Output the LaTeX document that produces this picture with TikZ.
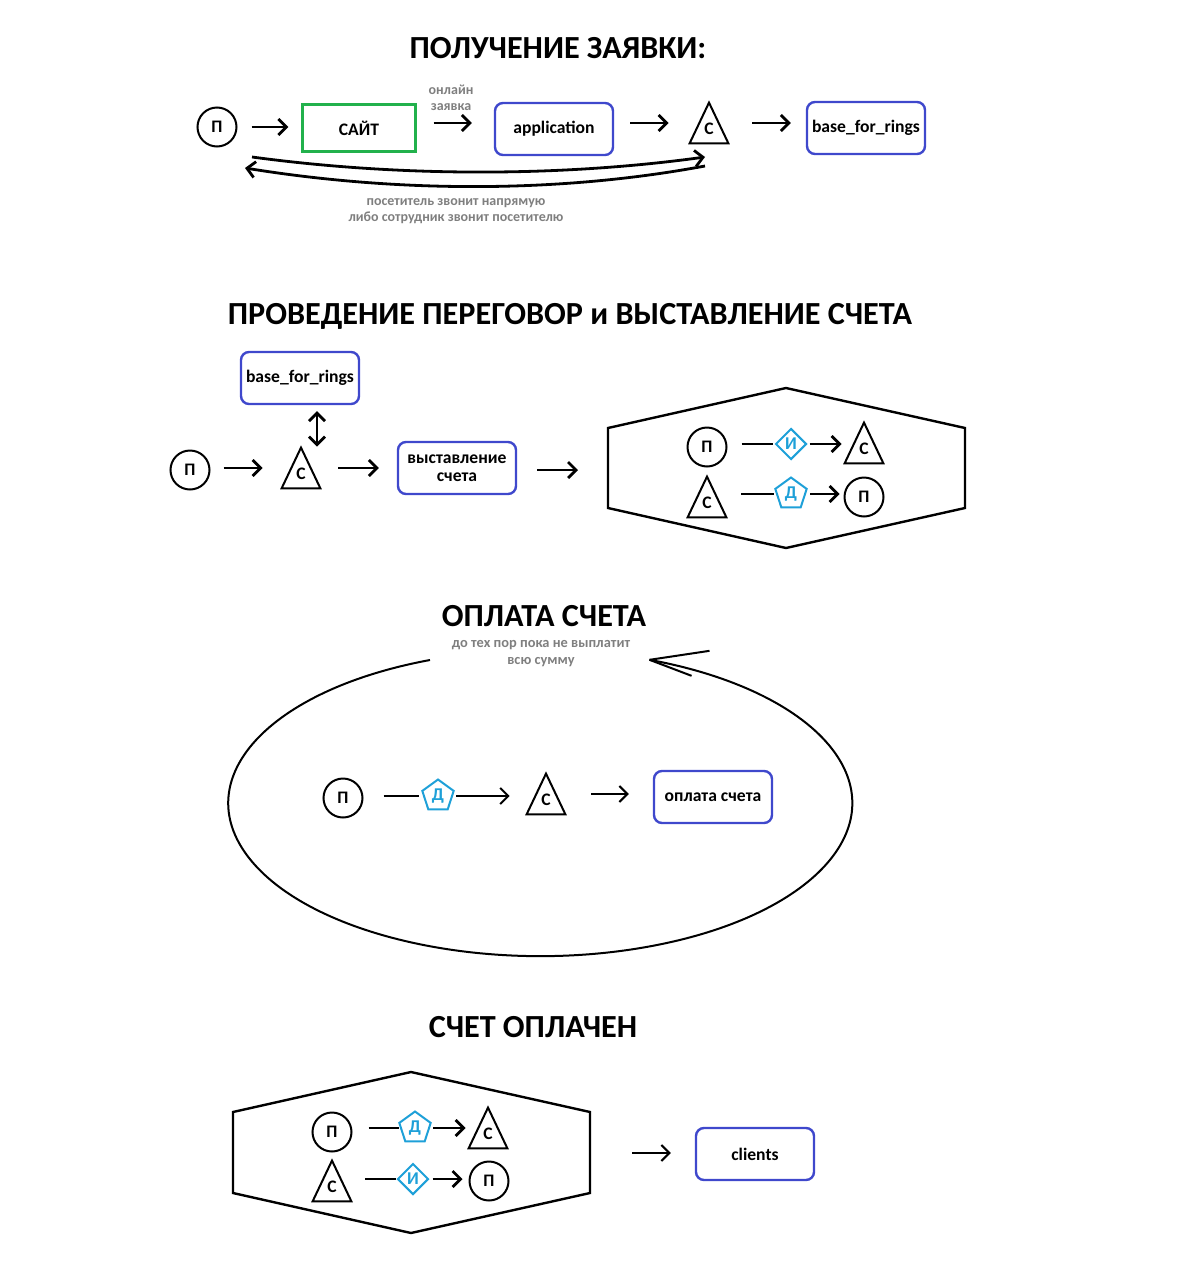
\documentclass[tikz,border=0pt]{standalone}
\usepackage{fontspec}
\setmainfont{Carlito}
\usetikzlibrary{shapes.geometric,arrows.meta}
\definecolor{boxblue}{HTML}{3F48CC}
\definecolor{boxgreen}{HTML}{22B14C}
\definecolor{cyanish}{HTML}{1EA0D8}
\definecolor{graytext}{HTML}{7F7F7F}
\begin{document}
\begin{tikzpicture}[x=0.5pt,y=-0.5pt,
  font=\bfseries\fontsize{8.8}{10}\selectfont,
  person/.style={circle,draw,line width=1pt,minimum size=19.5pt,inner sep=0pt},
  staff/.style={rectangle,minimum width=19pt,minimum height=20pt,inner sep=0pt,text height=11.5pt,text depth=0pt},
  tri/.style={draw,line width=1pt,line join=miter},
  db/.style={rectangle,rounded corners=4pt,draw=boxblue,line width=1.2pt,minimum width=59pt,minimum height=26pt,align=center,inner sep=1pt},
  sitebox/.style={rectangle,draw=boxgreen,line width=1.1pt,minimum width=56.5pt,minimum height=23.5pt},
  diam/.style={diamond,draw=cyanish,text=cyanish,line width=1pt,minimum width=15.5pt,minimum height=15.5pt,inner sep=0pt,font=\bfseries\fontsize{9}{9}\selectfont},
  pent/.style={regular polygon,regular polygon sides=5,draw=cyanish,text=cyanish,line width=1pt,minimum size=16.5pt,inner sep=0pt,font=\bfseries\fontsize{9}{9}\selectfont},
  heading/.style={font=\bfseries\fontsize{16.1}{18}\selectfont},
  note/.style={text=graytext,align=center,font=\bfseries\fontsize{7}{8}\selectfont},
  arr/.style={line width=1.4pt,-{Straight Barb[length=4pt,width=8pt]}},
  arrthin/.style={line width=1pt,-{Straight Barb[length=4pt,width=8pt]}},
  link/.style={line width=1.4pt},
  linkthin/.style={line width=1pt},
  outline/.style={line width=1.2pt,line join=miter}
]
\useasboundingbox (0,0) rectangle (1199,1280);

% ---------- Section 1 ----------
\node[heading] (t1) at (558,48) {ПОЛУЧЕНИЕ ЗАЯВКИ:};
\node[person] (p1) at (217,127) {П};
\node[sitebox] (site) at (359,128) {САЙТ};
\node[note] (online) at (451,98) {онлайн\\заявка};
\node[db] (app) at (554,129) {application};
\node[staff] (c1) at (709,123) {С};
\node[db] (bfr1) at (866,128) {base\_for\_rings};
\node[note] (call) at (456,211) {посетитель звонит напрямую\\либо сотрудник звонит посетителю};

\coordinate (y122) at (0,123);
\draw[arr,shorten <=7pt,shorten >=6.5pt] (p1.east) -- (p1.east -| site.west);
\draw[arr,shorten <=8.5pt,shorten >=11pt] (site.east |- y122) -- (app.west |- y122);
\draw[arr,shorten <=8pt,shorten >=10.5pt] (app.east |- c1.west) -- (c1.west);
\draw[arr,shorten <=12pt,shorten >=7.5pt] (c1.east) -- (c1.east -| bfr1.west);

\coordinate (u1s) at (252,157);
\coordinate (u1e) at (705,157);
\coordinate (l1s) at (705,166);
\coordinate (l1e) at (245,168);
\draw[arr] (u1s) .. controls (400,177) and (560,177) .. (u1e);
\draw[arr] (l1s) .. controls (560,193) and (400,193) .. (l1e);

% ---------- Section 2 ----------
\node[heading] (t2) at (570,316) {ПРОВЕДЕНИЕ ПЕРЕГОВОР и ВЫСТАВЛЕНИЕ СЧЕТА};
\node[db] (bfr2) at (300,378) {base\_for\_rings};
\node[staff] (c2) at (301,468) {С};
\node[person] (p2) at (190,470) {П};
\node[db] (inv) at (457,468) {выставление\\[-1pt]счета};

\draw[arr,{Straight Barb[length=4pt,width=8pt]}-{Straight Barb[length=4pt,width=8pt]},shorten <=3pt,shorten >=0.5pt]
  ([xshift=8.5pt]bfr2.south) -- ([xshift=8.5pt]bfr2.south |- c2.north);
\draw[arr,shorten <=6.5pt,shorten >=9.5pt] (p2.east |- c2.west) -- (c2.west);
\draw[arr,shorten <=9pt,shorten >=9pt] (c2.east) -- (c2.east -| inv.west);

% hexagon 2
\coordinate (h2a) at (608,428);
\coordinate (h2b) at (786,388);
\coordinate (h2c) at (965,428);
\coordinate (h2d) at (965,508);
\coordinate (h2e) at (786,548);
\coordinate (h2f) at (608,508);
\coordinate (h2w) at (608,470);
\draw[outline] (h2a) -- (h2b) -- (h2c) -- (h2d) -- (h2e) -- (h2f) -- cycle;
\draw[arr,shorten <=10pt,shorten >=15pt] (inv.east |- h2w) -- (h2w);

\node[person] (p3) at (707,447) {П};
\node[diam] (i1) at (791,444) {И};
\node[staff] (c3) at (864,443) {С};
\node[staff] (c4) at (707,497) {С};
\node[pent] (d1) at (791,494) {Д};
\node[person] (p4) at (864,497) {П};

\draw[link,shorten <=7pt,shorten >=1pt] (p3.east |- i1.west) -- (i1.west);
\draw[arr,shorten <=1pt,shorten >=1.5pt] (i1.east) -- (i1.east -| c3.west);
\draw[link,shorten <=7.5pt,shorten >=1pt] (c4.east |- d1.west) -- (d1.west);
\draw[arr,shorten <=2pt,shorten >=2pt] (d1.east) -- (d1.east -| p4.west);

% ---------- Section 3 ----------
\node[heading] (t3) at (544,616) {ОПЛАТА СЧЕТА};
\node[note,font=\bfseries\fontsize{7.2}{8.5}\selectfont] (until) at (541,654) {до тех пор пока не выплатит\\всю сумму};
\coordinate (e0) at (430,660);
\draw[linkthin] (e0) arc[start angle=249.3,end angle=-69.5,x radius=312,y radius=153] coordinate (etip);
\draw[linkthin] (etip) -- ++(60,-9);
\draw[linkthin] (etip) -- ++(42,16);

\node[person] (p5) at (343,798) {П};
\node[pent] (d2) at (438,796) {Д};
\node[staff] (c5) at (546,794) {С};
\node[db] (pay) at (713,797) {оплата счета};

\draw[linkthin,shorten <=10pt,shorten >=2pt] (p5.east |- d2.west) -- (d2.west);
\draw[arrthin,shorten <=1.5pt,shorten >=8.5pt] (d2.east) -- (d2.east -| c5.west);
\draw[arrthin,shorten <=13pt,shorten >=12pt] (c5.east) -- (c5.east -| pay.west);

% ---------- Section 4 ----------
\node[heading] (t4) at (533,1027) {СЧЕТ ОПЛАЧЕН};
\coordinate (h4a) at (233,1112);
\coordinate (h4b) at (411,1072);
\coordinate (h4c) at (590,1112);
\coordinate (h4d) at (590,1193);
\coordinate (h4e) at (411,1233);
\coordinate (h4f) at (233,1193);
\coordinate (h4w) at (590,1153);
\draw[outline] (h4a) -- (h4b) -- (h4c) -- (h4d) -- (h4e) -- (h4f) -- cycle;

\node[person] (p6) at (332,1132) {П};
\node[pent] (d3) at (415,1128) {Д};
\node[staff] (c6) at (488,1128) {С};
\node[staff] (c7) at (332,1181) {С};
\node[diam] (i2) at (413,1179) {И};
\node[person] (p7) at (489,1181) {П};
\node[db] (cl) at (755,1154) {clients};

\draw[link,shorten <=8pt,shorten >=0.5pt] (p6.east |- d3.west) -- (d3.west);
\draw[arr,shorten <=1.5pt,shorten >=1.5pt] (d3.east) -- (d3.east -| c6.west);
\draw[link,shorten <=7pt,shorten >=0.5pt] (c7.east |- i2.west) -- (i2.west);
\draw[arr,shorten <=1.5pt,shorten >=3pt] (i2.east) -- (i2.east -| p7.west);
\draw[arrthin,shorten <=21pt,shorten >=12pt] (h4w) -- (h4w -| cl.west);

% triangles for staff nodes
\foreach \n in {c1,c2,c3,c4,c5,c6,c7}
  \draw[tri] (\n.north) -- (\n.south west) -- (\n.south east) -- cycle;
\end{tikzpicture}
\end{document}
